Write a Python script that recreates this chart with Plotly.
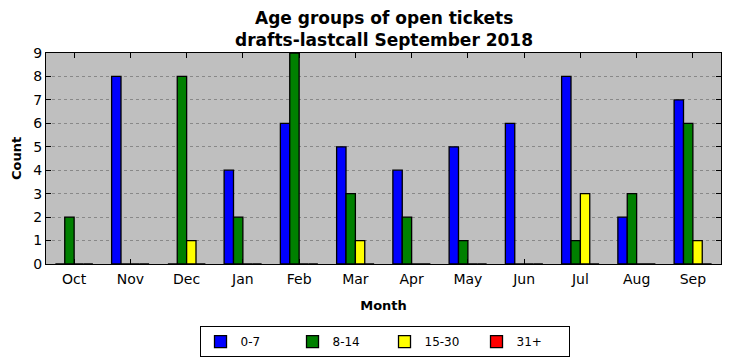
import plotly.graph_objects as go

months = ["Oct", "Nov", "Dec", "Jan", "Feb", "Mar", "Apr", "May", "Jun", "Jul", "Aug", "Sep"]
age_0_7 = [0, 8, 0, 4, 6, 5, 4, 5, 6, 8, 2, 7]
age_8_14 = [2, 0, 8, 2, 9, 3, 2, 1, 0, 1, 3, 6]
age_15_30 = [0, 0, 1, 0, 0, 1, 0, 0, 0, 3, 0, 1]
age_31_plus = [0, 0, 0, 0, 0, 0, 0, 0, 0, 0, 0, 0]
y_ticks = list(range(0, 10))

series = [
    ("0-7", age_0_7, "#0000ff"),
    ("8-14", age_8_14, "#008000"),
    ("15-30", age_15_30, "#ffff00"),
    ("31+", age_31_plus, "#ff0000"),
]

fig = go.Figure()
for name, vals, color in series:
    fig.add_trace(go.Bar(
        x=months, y=vals, name=name,
        marker=dict(color=color, line=dict(color="black", width=1.3)),
    ))

font = "DejaVu Sans, sans-serif"
fig.update_layout(
    width=724, height=353,
    margin=dict(l=38, r=11, t=45, b=97, autoexpand=False),
    paper_bgcolor="white",
    plot_bgcolor="#bfbfbf",
    barmode="group",
    bargap=0.333, bargroupgap=0,
    font=dict(family=font, size=13, color="black"),
    annotations=[
        dict(text="<b>Age groups of open tickets</b>", xref="paper", yref="paper",
             x=0.5, y=1.0, xanchor="center", yanchor="bottom", yshift=23,
             showarrow=False, font=dict(size=17)),
        dict(text="<b>drafts-lastcall September 2018</b>", xref="paper", yref="paper",
             x=0.5, y=1.0, xanchor="center", yanchor="bottom", yshift=1,
             showarrow=False, font=dict(size=17)),
    ],
    legend=dict(
        orientation="h", x=0.5015, xanchor="center", y=-0.294, yanchor="top",
        bordercolor="black", borderwidth=1, bgcolor="white",
        font=dict(size=12), entrywidth=47, itemwidth=30,
    ),
    xaxis=dict(
        title=dict(text="<b>Month</b>", font=dict(size=13), standoff=15),
        showline=True, linecolor="black", linewidth=1, mirror="ticks",
        ticks="inside", ticklen=5, tickcolor="black", ticklabelstandoff=2,
        tickfont=dict(size=14), range=[-0.5, 11.5],
        showgrid=False, automargin=False,
    ),
    yaxis=dict(
        title=dict(text="<b>Count</b>", font=dict(size=13), standoff=8),
        showline=True, linecolor="black", linewidth=1, mirror="ticks",
        ticks="inside", ticklen=5, tickcolor="black",
        tickvals=y_ticks, range=[0, 9], tickfont=dict(size=14),
        showgrid=True, gridcolor="#888888", griddash="dot", gridwidth=1,
        zeroline=False, automargin=False,
    ),
)

fig.write_html("out.html")
